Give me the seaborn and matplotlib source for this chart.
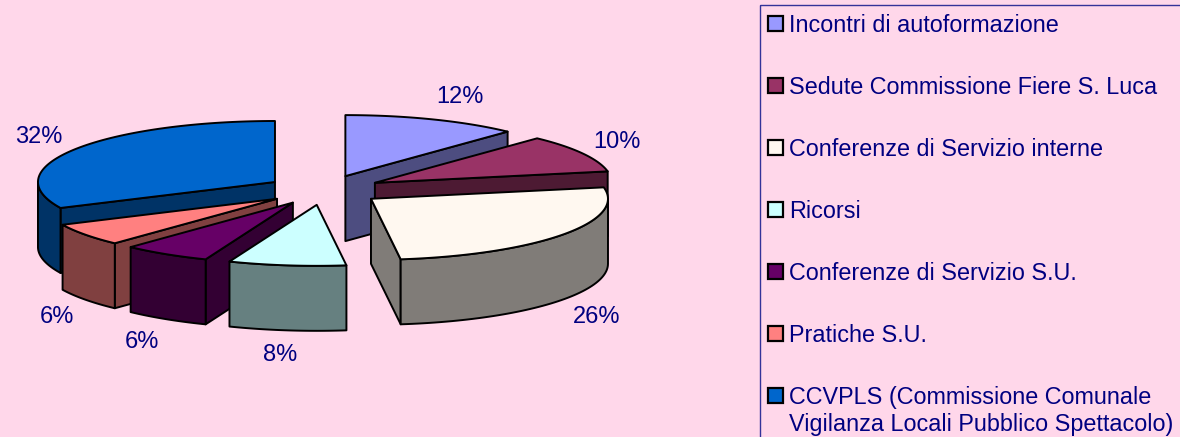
import numpy as np
import matplotlib
matplotlib.use('Agg')
import matplotlib.pyplot as plt
from matplotlib.colors import to_rgb
from matplotlib.patches import Rectangle
import seaborn as sns

# --- Data ---
categories = ['Incontri di autoformazione', 'Sedute Commissione Fiere S. Luca',
              'Conferenze di Servizio interne', 'Ricorsi',
              'Conferenze di Servizio S.U.', 'Pratiche S.U.',
              'CCVPLS (Commissione Comunale\nVigilanza Locali Pubblico Spettacolo)']
shares = [12, 10, 26, 8, 6, 6, 32]
colors = ['#9999FF', '#993366', '#FFF8F0', '#CCFFFF', '#660066', '#FF8080', '#0066CC']

# label anchors, in pixels
label_x = [460, 617, 597, 280, 142, 57, 39]
label_y = [97, 142, 317, 355, 342, 317, 137]

BG = '#FFD7EA'
INK = '#000080'
CX, CY = 324, 190      # pie centre
RX, RY = 237, 61       # ellipse radii of the tilted disc
DEPTH = 65
EXPLODE = 0.245
LW = 1.4

sns.set_theme(style='white')
plt.rcParams['font.family'] = ['Liberation Sans', 'DejaVu Sans']

fig = plt.figure(figsize=(11.8, 4.37), dpi=100, facecolor=BG)
ax = fig.add_axes([0, 0, 1, 1], facecolor=BG)
ax.set_xlim(0, 1180)
ax.set_ylim(437, 0)
ax.axis('off')


def rim(ax_, ay_, deg):
    t = np.radians(deg)
    return ax_ + RX * np.sin(t), ay_ - RY * np.cos(t)


def face(xs, ys, color):
    ax.fill(xs, ys, facecolor=color, edgecolor='black', lw=LW, joinstyle='round')


# --- Slices: angles run clockwise from the top ---
edges = np.cumsum([0] + shares) * 3.6
slices = []
for i in range(len(shares)):
    mid = np.radians((edges[i] + edges[i + 1]) / 2)
    apex_x = CX + EXPLODE * RX * np.sin(mid)
    apex_y = CY - EXPLODE * RY * np.cos(mid)
    slices.append((apex_y, i, apex_x))

# back slices first
for apex_y, i, apex_x in sorted(slices):
    a, b = edges[i], edges[i + 1]
    top = np.array(to_rgb(colors[i]))
    side = top * 0.5

    # radial wall, only when it faces the viewer
    for deg, visible in ((a, 180 < a < 360), (b, 0 < b < 180)):
        if visible:
            rx_, ry_ = rim(apex_x, apex_y, deg)
            face([apex_x, rx_, rx_, apex_x], [apex_y, ry_, ry_ + DEPTH, apex_y + DEPTH], side)

    # outer wall on the front half of the disc
    lo, hi = max(a, 90), min(b, 270)
    if lo < hi:
        arc = np.linspace(lo, hi, 60)
        ax_pts, ay_pts = rim(apex_x, apex_y, arc)
        face(np.r_[ax_pts, ax_pts[::-1]], np.r_[ay_pts, ay_pts[::-1] + DEPTH], side)

    # top
    arc = np.linspace(a, b, 80)
    tx, ty = rim(apex_x, apex_y, arc)
    face(np.r_[apex_x, tx], np.r_[apex_y, ty], top)

# --- Percent labels ---
for x, y, s in zip(label_x, label_y, shares):
    ax.text(x, y, f'{s}%', color=INK, fontsize=17, ha='center', va='center')

# --- Legend ---
ax.add_patch(Rectangle((760, 5), 440, 460, facecolor='none', edgecolor='#333399', lw=1.0))
for i, name in enumerate(categories):
    y = 23 + i * 62.1
    ax.add_patch(Rectangle((768, y - 7.5), 15, 15, facecolor=colors[i], edgecolor='black', lw=1.6))
    ax.text(789, y - 9.5, name, color=INK, fontsize=16.8, ha='left', va='top', linespacing=1.22)

fig.savefig('out.png', dpi=100, facecolor=BG)
